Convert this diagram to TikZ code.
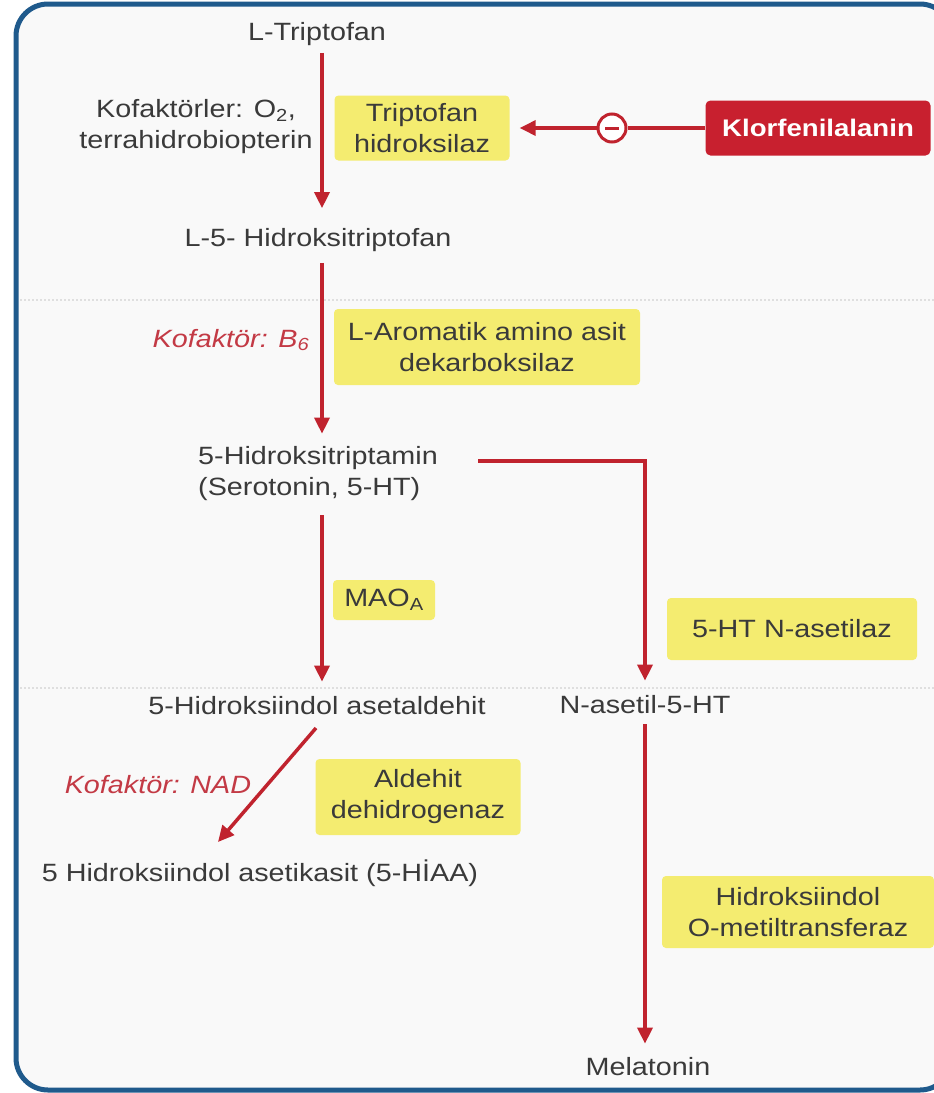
\documentclass[tikz,border=0pt]{standalone}
\usepackage{fontspec}
\setmainfont[FakeStretch=1.15]{Liberation Sans}
\usetikzlibrary{arrows.meta,calc}
\definecolor{txtc}{HTML}{3A3A3A}
\definecolor{arrc}{HTML}{C0232E}
\definecolor{enzy}{HTML}{F4EC70}
\definecolor{klr}{HTML}{C8202F}
\definecolor{cofc}{HTML}{C33A45}
\definecolor{bordc}{HTML}{1F5A8C}
\definecolor{bgc}{HTML}{F9F9F9}
\tikzset{
  txt/.style={font=\fontsize{25}{31}\selectfont, text=txtc, inner sep=2pt},
  enz/.style={fill=enzy, rounded corners=4pt, font=\fontsize{25}{31}\selectfont, text=txtc, align=center, inner sep=0pt},
  redbox/.style={fill=klr, rounded corners=5pt, text=white, font=\bfseries\fontsize{24}{30}\selectfont, minimum width=225pt, minimum height=55pt, inner sep=0pt},
  cof/.style={font=\itshape\fontsize{25}{31}\selectfont, text=cofc, inner sep=2pt},
  arr/.style={draw=arrc, line width=3.5pt, -{Triangle[length=16pt,width=15pt]}},
  plainline/.style={draw=arrc, line width=3.5pt},
  inh/.style={circle, draw=arrc, line width=3pt, fill=white, minimum size=28pt, inner sep=0pt},
}
\begin{document}
\begin{tikzpicture}[x=1pt,y=-1pt]
\useasboundingbox (0,0) rectangle (934,1093);
\clip (0,0) rectangle (934,1093);
\fill[white] (0,0) rectangle (934,1093);
\fill[bgc, rounded corners=32pt] (16,4) rectangle (952,1090);
\draw[gray!25, line width=2pt, dotted] (20,300) -- (934,300);
\draw[gray!25, line width=2pt, dotted] (20,688) -- (934,688);
\draw[bordc, line width=5pt, rounded corners=32pt] (16,4) rectangle (952,1090);

% main column nodes
\node[txt] (trp) at (317,34) {L-Triptofan};
\node[txt] (htp) at (318,240) {L-5- Hidroksitriptofan};
\node[txt, align=left, anchor=west] (ser) at (196,474) {5-Hidroksitriptamin\\(Serotonin, 5-HT)};
\node[txt] (ald) at (317,706) {5-Hidroksiindol asetaldehit};
\node[txt] (nac) at (645,705) {N-asetil-5-HT};
\node[txt] (hiaa) at (260,873) {5 Hidroksiindol asetikasit (5-HİAA)};
\node[txt] (mel) at (648,1067) {Melatonin};

% cofactors
\node[txt, align=center] (cof1) at (196,127) {Kofaktörler: O\textsubscript{2},\\terrahidrobiopterin};
\node[cof] (cof2) at (231,340) {Kofaktör: B\textsubscript{6}};
\node[cof] (cof3) at (158,785) {Kofaktör: NAD};

% enzymes
\node[enz, minimum width=175pt, minimum height=65pt] (th) at (422,128) {Triptofan\\hidroksilaz};
\node[enz, minimum width=306pt, minimum height=76pt] (aadc) at (487,347) {L-Aromatik amino asit\\dekarboksilaz};
\node[enz, minimum width=102pt, minimum height=40pt] (mao) at (384,600) {MAO\textsubscript{A}};
\node[enz, minimum width=250pt, minimum height=62pt] (nat) at (792,629) {5-HT N-asetilaz};
\node[enz, minimum width=205pt, minimum height=76pt] (aldh) at (418,797) {Aldehit\\dehidrogenaz};
\node[enz, minimum width=272pt, minimum height=72pt] (hiomt) at (798,912) {Hidroksiindol\\O-metiltransferaz};

% inhibitor
\node[redbox] (klor) at (818,128) {Klorfenilalanin};
\node[inh] (minus) at (612,128) {};
\draw[arrc, line width=3pt] ([xshift=-7pt]minus.center) -- ([xshift=7pt]minus.center);
\draw[plainline] (klor.west) -- (minus.east);
\draw[arr, shorten >=10pt] (minus.west) -- (th.east);

% arrows
\coordinate (ax) at (322,0);
\draw[arr, shorten <=5pt, shorten >=18pt] (trp.south -| ax) -- (htp.north -| ax);
\draw[arr, shorten <=9pt, shorten >=11pt] (htp.south -| ax) -- (ser.north -| ax);
\draw[arr, shorten <=12pt, shorten >=13pt] (ser.south -| ax) -- (ald.north -| ax);
\coordinate (e1) at (478,461);
\draw[arr, shorten >=13pt] (e1) -| (nac.north);
\coordinate (d1) at (316,728);
\coordinate (d2) at (218,842);
\draw[arr] (d1) -- (d2);
\draw[arr, shorten <=8pt, shorten >=12pt] (nac.south) -- (mel.north -| nac.south);
\end{tikzpicture}
\end{document}
